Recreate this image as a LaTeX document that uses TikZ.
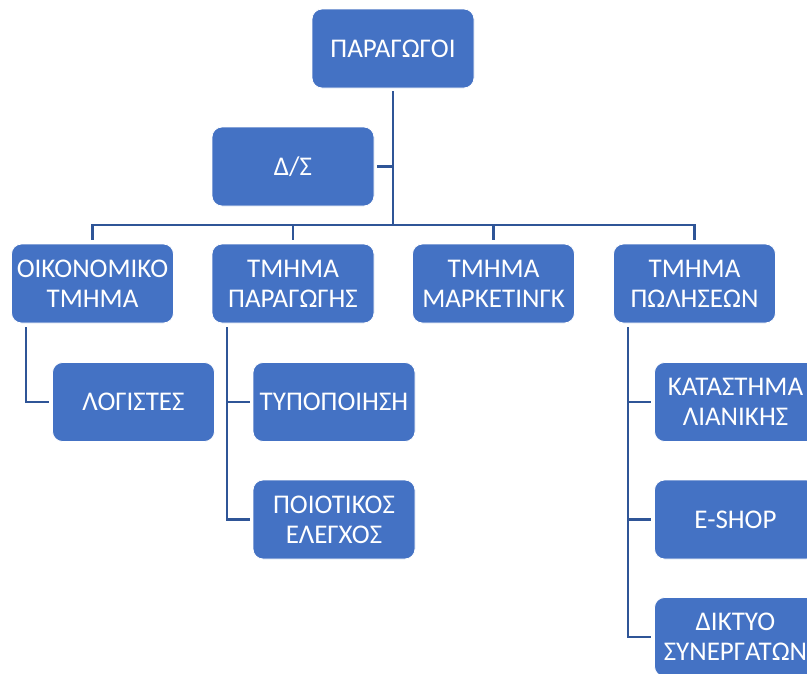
\documentclass[tikz,border=0pt]{standalone}
\usepackage{fontspec}
\setmainfont{Carlito}
\definecolor{boxblue}{HTML}{4472C4}
\definecolor{linkblue}{HTML}{2F5597}
\tikzset{
  orgbox/.style={fill=boxblue, draw=white, line width=0.8pt, rounded corners=10pt,
    minimum width=162pt, minimum height=79pt, align=center, text=white,
    font=\fontsize{27}{30}\selectfont, inner sep=0pt},
  conn/.style={draw=linkblue, line width=2.2pt}
}
\begin{document}
\begin{tikzpicture}[x=1pt,y=-1pt]
\useasboundingbox (0,0) rectangle (807,673);
\clip (0,0) rectangle (807,673);
\fill[white] (0,0) rectangle (807,673);
% nodes
\node[orgbox] (top) at (393,48.5) {ΠΑΡΑΓΩΓΟΙ};
\node[orgbox] (ds) at (293,166.5) {Δ/Σ};
\node[orgbox] (oik) at (92.5,283.5) {ΟΙΚΟΝΟΜΙΚΟ\\ΤΜΗΜΑ};
\node[orgbox] (par) at (293,283.5) {ΤΜΗΜΑ\\ΠΑΡΑΓΩΓΗΣ};
\node[orgbox] (mar) at (493.5,283.5) {ΤΜΗΜΑ\\ΜΑΡΚΕΤΙΝΓΚ};
\node[orgbox] (pol) at (694.5,283.5) {ΤΜΗΜΑ\\ΠΩΛΗΣΕΩΝ};
\node[orgbox] (log) at (133.5,402) {ΛΟΓΙΣΤΕΣ};
\node[orgbox] (typ) at (334,402) {ΤΥΠΟΠΟΙΗΣΗ};
\node[orgbox] (qc) at (334,519.5) {ΠΟΙΟΤΙΚΟΣ\\ΕΛΕΓΧΟΣ};
\node[orgbox] (kat) at (735.5,402) {ΚΑΤΑΣΤΗΜΑ\\ΛΙΑΝΙΚΗΣ};
\node[orgbox] (esh) at (735.5,519.5) {E-SHOP};
\node[orgbox] (dik) at (735.5,637) {ΔΙΚΤΥΟ\\ΣΥΝΕΡΓΑΤΩΝ};
% connectors
\coordinate (hub) at (393,225);
\draw[conn, shorten <=3pt] (top.south) -- (hub);
\draw[conn, shorten <=3pt] (ds.east) -- (ds.east -| hub);
\draw[conn, line cap=rect] (oik.north |- hub) -- (pol.north |- hub);
\draw[conn, shorten >=4pt] (oik.north |- hub) -- (oik.north);
\draw[conn, shorten >=4pt] (par.north |- hub) -- (par.north);
\draw[conn, shorten >=4pt] (mar.north |- hub) -- (mar.north);
\draw[conn, shorten >=4pt] (pol.north |- hub) -- (pol.north);
\draw[conn, shorten <=4pt, shorten >=3pt] ([xshift=15pt]oik.south west) |- (log.west);
\draw[conn, shorten <=4pt, shorten >=3pt] ([xshift=15pt]par.south west) |- (qc.west);
\draw[conn, shorten >=3pt] ([xshift=15pt]par.south west |- typ.west) -- (typ.west);
\draw[conn, shorten <=4pt, shorten >=3pt] ([xshift=15pt]pol.south west) |- (dik.west);
\draw[conn, shorten >=3pt] ([xshift=15pt]pol.south west |- kat.west) -- (kat.west);
\draw[conn, shorten >=3pt] ([xshift=15pt]pol.south west |- esh.west) -- (esh.west);
\end{tikzpicture}
\end{document}
